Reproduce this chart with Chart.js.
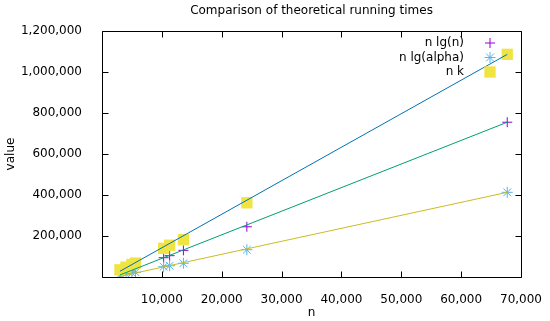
<!DOCTYPE html>
<html><head><meta charset="utf-8">
<script src="https://cdn.jsdelivr.net/npm/chart.js@4"></script>
<style>html,body{margin:0;padding:0;background:#fff}#wrap{width:550px;height:321px}</style>
</head><body><div id="wrap"><canvas id="c" width="550" height="321"></canvas></div>
<script>
const titleText = 'Comparison of theoretical running times';
const xTitle = 'n';
const yTitle = 'value';
const seriesNames = ['n lg(n)', 'n lg(alpha)', 'n k'];
const nValues = [3000, 4000, 5000, 5600, 10300, 11300, 13600, 24200, 67700];
const nLgN = [25000, 33000, 42000, 47000, 94000, 104000, 130000, 245000, 755000];
const nLgAlpha = [12000, 16000, 20000, 23000, 50000, 55000, 67000, 133000, 413000];
const nK = [35000, 48000, 61000, 68000, 140000, 155000, 182000, 362000, 1086000];
const fitN = [3000, 67700];
const fitNk = [28000, 1086000];
const fitNLgN = [10000, 755000];
const fitNLgAlpha = [3000, 413000];
const xTicks = [0, 10000, 20000, 30000, 40000, 50000, 60000, 70000];
const yTicks = [0, 200000, 400000, 600000, 800000, 1000000, 1200000];

const FONT = {family: "'DejaVu Sans', sans-serif", size: 12};
const fmt = v => v === 0 ? '' : Number(v).toLocaleString('en-US');
const pts = (xs, ys) => xs.map((x, i) => ({x: x, y: ys[i]}));

const seriesStyles = [
  {pointStyle: 'cross', color: '#9400d3', radius: 5},
  {pointStyle: 'star', color: '#56b4e9', radius: 5.5},
  {pointStyle: 'rect', color: '#f0e442', radius: 8}
];
const seriesData = [nLgN, nLgAlpha, nK];

const datasets = seriesData.map((vals, i) => ({
  label: seriesNames[i],
  data: pts(nValues, vals),
  showLine: false,
  pointStyle: seriesStyles[i].pointStyle,
  pointRadius: seriesStyles[i].radius,
  pointHoverRadius: seriesStyles[i].radius,
  borderColor: seriesStyles[i].color,
  backgroundColor: seriesStyles[i].color,
  pointBorderWidth: i === 2 ? 0 : 1,
  order: 3 - i + 3,
  legendItem: true
}));
[[fitNk, '#0072b2'], [fitNLgN, '#009e73'], [fitNLgAlpha, '#cdbb22']].forEach(([vals, col]) => {
  datasets.push({
    label: '',
    data: pts(fitN, vals),
    showLine: true,
    pointRadius: 0,
    borderColor: col,
    borderWidth: 1,
    order: 0,
    legendItem: false
  });
});

const frame = {
  id: 'frame',
  afterDraw(chart) {
    const ctx = chart.ctx, a = chart.chartArea;
    const xs = chart.scales.x, ys = chart.scales.y;
    ctx.save();
    ctx.strokeStyle = '#000';
    ctx.lineWidth = 1;
    ctx.beginPath();
    const L = Math.round(a.left) + 0.5, R = Math.round(a.right) + 0.5;
    const T = Math.round(a.top) + 0.5, B = Math.round(a.bottom) + 0.5;
    ctx.rect(L, T, R - L, B - T);
    const tl = 6;
    xs.ticks.forEach(t => {
      const px = Math.round(xs.getPixelForValue(t.value)) + 0.5;
      ctx.moveTo(px, B); ctx.lineTo(px, B - tl);
      ctx.moveTo(px, T); ctx.lineTo(px, T + tl);
    });
    ys.ticks.forEach(t => {
      const py = Math.round(ys.getPixelForValue(t.value)) + 0.5;
      ctx.moveTo(L, py); ctx.lineTo(L + tl, py);
      ctx.moveTo(R, py); ctx.lineTo(R - tl, py);
    });
    ctx.stroke();

    ctx.fillStyle = '#000';
    ctx.font = "12px 'DejaVu Sans', sans-serif";
    ctx.textAlign = 'center';
    ctx.textBaseline = 'middle';
    const cx = (a.left + a.right) / 2;
    ctx.fillText(titleText, cx, 11);
    ctx.fillText(xTitle, cx, 313);
    ctx.save();
    ctx.translate(11, (a.top + a.bottom) / 2);
    ctx.rotate(-Math.PI / 2);
    ctx.fillText(yTitle, 0, 0);
    ctx.restore();

    // legend
    let ly = 43;
    chart.data.datasets.forEach(ds => {
      if (!ds.legendItem) return;
      ctx.textAlign = 'right';
      ctx.fillStyle = '#000';
      ctx.fillText(ds.label, 464, ly);
      ctx.strokeStyle = ds.borderColor;
      ctx.fillStyle = ds.backgroundColor;
      ctx.lineWidth = ds.pointBorderWidth || 1;
      Chart.helpers.drawPoint(ctx, {pointStyle: ds.pointStyle, radius: ds.pointRadius, borderWidth: ds.pointBorderWidth}, 490, ly);
      ly += 14.5;
    });
    ctx.restore();
  }
};

new Chart(document.getElementById('c'), {
  type: 'scatter',
  data: {datasets},
  options: {
    responsive: false,
    animation: false,
    devicePixelRatio: 1,
    layout: {padding: {top: 31, right: 24, left: 0, bottom: 0}},
    plugins: {legend: {display: false}, title: {display: false}, tooltip: {enabled: false}},
    scales: {
      x: {
        type: 'linear', min: 0, max: 70000,
        afterBuildTicks: s => { s.ticks = xTicks.map(v => ({value: v})); },
        ticks: {callback: fmt, font: FONT, color: '#000', padding: 8, maxRotation: 0, autoSkip: false},
        grid: {display: false}, border: {display: false},
        afterFit: s => { s.height = 44; }
      },
      y: {
        type: 'linear', min: 0, max: 1200000,
        afterBuildTicks: s => { s.ticks = yTicks.map(v => ({value: v})); },
        ticks: {callback: fmt, font: FONT, color: '#000', padding: 12, autoSkip: false},
        grid: {display: false}, border: {display: false},
        afterFit: s => { s.width = 102; }
      }
    }
  },
  plugins: [frame]
});
</script></body></html>
